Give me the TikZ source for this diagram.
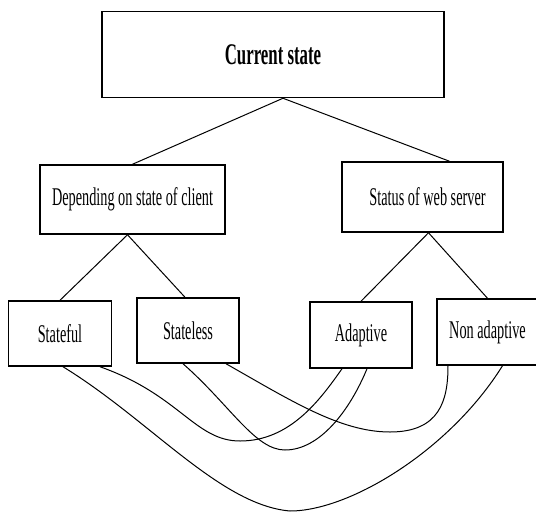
\documentclass[tikz,border=0pt]{standalone}
\usepackage{fontspec}
\newfontfamily\boxfont[FakeStretch=0.56]{Liberation Serif}

\begin{document}
\begin{tikzpicture}[
        x=1pt, y=-1pt,
        box/.style={draw, line width=1.5pt, inner sep=0pt, font=\boxfont\fontsize{25.5}{28}\selectfont},
        link/.style={line width=1pt}
    ]
        \clip (0,0) rectangle (536,512);

        % top level
        \node[box, minimum width=342pt, minimum height=86pt, font=\boxfont\bfseries\fontsize{30}{34}\selectfont] (cur) at (273,54.5) {Current state};

        % second level
        \node[box, minimum width=185pt, minimum height=69pt] (client) at (132.5,199.5) {Depending on state of client};
        \node[box, minimum width=161pt, minimum height=70pt] (server) at (422.5,197) {\hspace{10pt}Status of web server};

        % third level
        \node[box, minimum width=103pt, minimum height=65pt] (stful) at (60,333.5) {Stateful};
        \node[box, minimum width=102pt, minimum height=65pt] (stless) at (188,330.5) {Stateless};
        \node[box, minimum width=102pt, minimum height=66pt] (adapt) at (361,335) {Adaptive};
        \node[box, minimum width=101pt, minimum height=66pt] (nonadapt) at (487.5,332) {Non adaptive};

        % tree lines
        \draw[link] ([xshift=10pt]cur.south) -- (client.north);
        \draw[link] ([xshift=10pt]cur.south) -- ([xshift=27pt]server.north);
        \draw[link] ([xshift=-5pt]client.south) -- (stful.north);
        \draw[link] ([xshift=-5pt]client.south) -- ([xshift=-3pt]stless.north);
        \draw[link] ([xshift=6pt]server.south) -- (adapt.north);
        \draw[link] ([xshift=6pt]server.south) -- (nonadapt.north);

        % cross links
        \draw[link] ([xshift=3pt]stful.south) .. controls (150,420) and (220,505) .. (290,511)
            .. controls (350,511) and (450,450) .. ([xshift=15pt]nonadapt.south);
        \draw[link] ([xshift=40pt]stful.south) .. controls (180,395) and (195,441) .. (240,441)
            .. controls (290,441) and (320,400) .. ([xshift=-19pt]adapt.south);
        \draw[link] ([xshift=-5pt]stless.south) .. controls (230,405) and (255,450) .. (285,450)
            .. controls (320,450) and (350,410) .. ([xshift=6pt]adapt.south);
        \draw[link] ([xshift=38pt]stless.south) .. controls (290,400) and (340,432) .. (390,432)
            .. controls (440,432) and (448,400) .. ([xshift=-39.5pt]nonadapt.south);
    \end{tikzpicture}
\end{document}
